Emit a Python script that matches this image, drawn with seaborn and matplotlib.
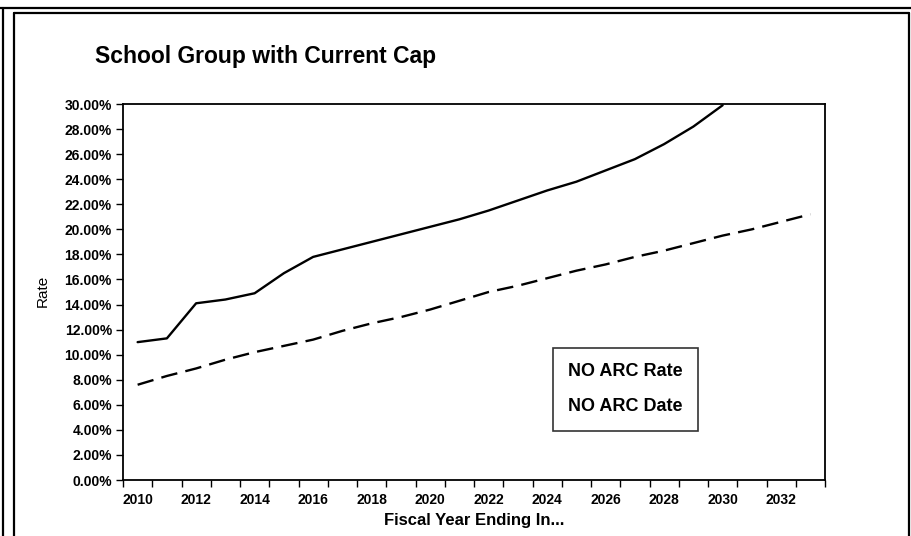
import numpy as np
import pandas as pd
import matplotlib
matplotlib.use("Agg")
import matplotlib.pyplot as plt
from matplotlib.lines import Line2D
from matplotlib.ticker import FixedLocator, FuncFormatter
import seaborn as sns

# ---- data ----
years_rate = list(range(2010, 2031))
no_arc_rate = [11.0, 11.3, 14.1, 14.4, 14.9, 16.5, 17.8, 18.4, 19.0, 19.6,
               20.2, 20.8, 21.5, 22.3, 23.1, 23.8, 24.7, 25.6, 26.8, 28.2, 29.9]
years_date = list(range(2010, 2034))
no_arc_date = [7.6, 8.3, 8.9, 9.6, 10.2, 10.7, 11.2, 11.9, 12.5, 13.0, 13.6, 14.3,
               15.0, 15.5, 16.1, 16.7, 17.2, 17.8, 18.3, 18.9, 19.5, 20.0, 20.6, 21.2]
series_names = ["NO ARC Rate", "NO ARC Date"]
x_tick_labels = list(range(2010, 2033, 2))
y_ticks = list(range(0, 31, 2))

title = "School Group with Current Cap"
x_title = "Fiscal Year Ending In..."
y_title = "Rate"

sns.set_style("white")
plt.rcParams["font.family"] = ["Liberation Sans", "DejaVu Sans"]
plt.rcParams["text.color"] = "black"
plt.rcParams["axes.labelcolor"] = "black"
plt.rcParams["xtick.color"] = "black"
plt.rcParams["ytick.color"] = "black"

W, H = 912, 536
fig = plt.figure(figsize=(W / 100, H / 100), dpi=100)
ax = fig.add_axes([123 / W, 1 - 480 / H, (825 - 123) / W, (480 - 104) / H])

df_rate = pd.DataFrame({"year": years_rate, "value": no_arc_rate})
df_date = pd.DataFrame({"year": years_date, "value": no_arc_date})

sns.lineplot(data=df_rate, x="year", y="value", ax=ax, color="black",
             linewidth=1.7, label=series_names[0])
sns.lineplot(data=df_date, x="year", y="value", ax=ax, color="black",
             linewidth=1.7, label=series_names[1], dashes=False)
ax.lines[1].set_dashes((7, 3.5))

ax.set_xlim(2009.5, 2033.5)
ax.set_ylim(0, 30)
ax.set_xlabel("")
ax.set_ylabel("")

ax.xaxis.set_minor_locator(FixedLocator(np.arange(2009.5, 2034, 1.0)))
ax.set_xticks(x_tick_labels)
ax.set_xticklabels([str(v) for v in x_tick_labels], fontsize=10, fontweight="bold")
ax.tick_params(axis="x", which="major", length=0, pad=9)
ax.tick_params(axis="x", which="minor", length=5, width=1, direction="out",
               color="black", bottom=True)

ax.set_yticks(y_ticks)
ax.yaxis.set_major_formatter(FuncFormatter(lambda v, p: f"{v:.2f}%"))
for t in ax.get_yticklabels():
    t.set_fontweight("bold")
    t.set_fontsize(10)
ax.tick_params(axis="y", which="major", length=5, width=1, direction="out",
               color="black", pad=3, left=True)

for s in ax.spines.values():
    s.set_visible(True)
    s.set_color("black")
    s.set_linewidth(1.3)

leg = ax.legend(loc="upper left", bbox_to_anchor=(553 / W, 1 - 348 / H),
                bbox_transform=fig.transFigure, borderaxespad=0,
                frameon=True, fancybox=False, edgecolor="black",
                handlelength=0, handletextpad=0, labelspacing=1.0,
                borderpad=0.85, prop={"weight": "bold", "size": 13})
leg.get_frame().set_linewidth(1.2)

fig.text(95 / W, 1 - 57 / H, title, fontsize=16.5, fontweight="bold", va="center",
         ha="left")
fig.text(474 / W, 1 - 521 / H, x_title, fontsize=12, fontweight="bold",
         va="center", ha="center")
fig.text(43 / W, 1 - 291 / H, y_title, fontsize=11, rotation=90, va="center", ha="center")

# outer frame lines
def fline(x0, y0, x1, y1, lw=1.6):
    fig.add_artist(Line2D([x0 / W, x1 / W], [1 - y0 / H, 1 - y1 / H],
                          transform=fig.transFigure, color="black", linewidth=lw))

fline(0, 8, W, 8)
fline(3, 8, 3, H)
fline(14, 13, 909, 13)
fline(14, 13, 14, H)
fline(909, 13, 909, H)

fig.savefig("out.png", dpi=100, facecolor="white")
